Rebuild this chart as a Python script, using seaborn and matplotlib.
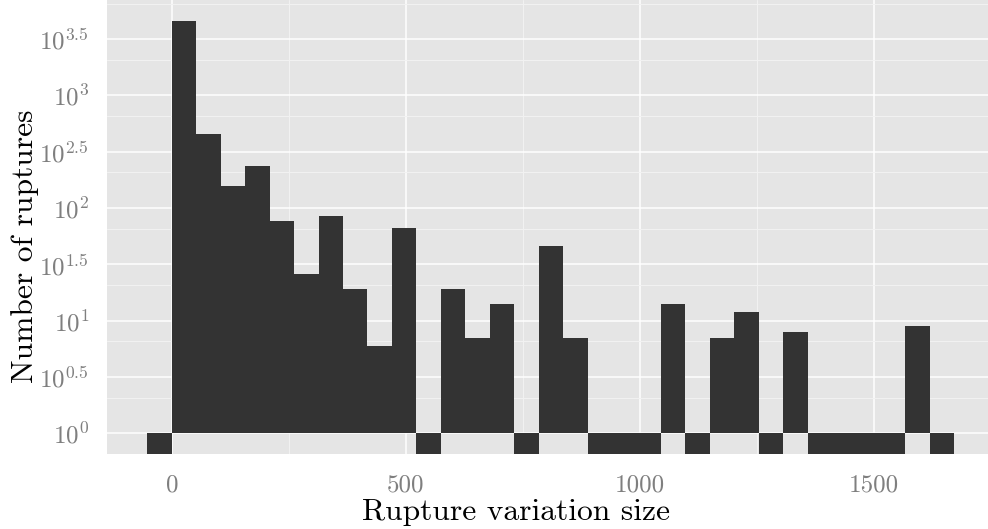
import numpy as np
import pandas as pd
import matplotlib
matplotlib.use("Agg")
import matplotlib.pyplot as plt
import seaborn as sns
from matplotlib.ticker import FixedLocator, FixedFormatter, NullFormatter

# Histogram of rupture variation sizes (counts per bin, log scale)
bin_width = 52.24
bin_index = list(range(-1, 32))
counts = [1, 4620, 455, 157, 237, 77, 26, 85, 19, 6, 67, 1, 19, 7, 14, 1,
          46, 7, 1, 1, 1, 14, 1, 7, 12, 1, 8, 1, 1, 1, 1, 9, 1]

x_ticks = [0, 500, 1000, 1500]
x_minor = [-250, 250, 750, 1250, 1750]
y_exponents = [0, 0.5, 1, 1.5, 2, 2.5, 3, 3.5]
y_tick_labels = [r"$10^{0}$", r"$10^{0.5}$", r"$10^{1}$", r"$10^{1.5}$",
                 r"$10^{2}$", r"$10^{2.5}$", r"$10^{3}$", r"$10^{3.5}$"]

edges = bin_width * np.arange(bin_index[0], bin_index[-1] + 2)
df = pd.DataFrame({"size": edges[:-1] + bin_width / 2, "n": counts})

sns.set_style("darkgrid")
plt.rcParams["font.family"] = ["cmr10"]
plt.rcParams["mathtext.fontset"] = "cm"
plt.rcParams["axes.unicode_minus"] = False
plt.rcParams["axes.formatter.use_mathtext"] = True

fig = plt.figure(figsize=(9.88, 5.29), dpi=100)
ax = fig.add_axes([0.1083, 0.1418, 0.8985, 0.8582])
ax.set_facecolor("#E5E5E5")

sns.histplot(data=df, x="size", weights="n", bins=edges.tolist(),
             color="#333333", alpha=1, linewidth=0, edgecolor="none", ax=ax)
ax.set_yscale("log")

# bars start at 10^0; single-count bins hang below the baseline
for p in ax.patches:
    h = p.get_height()
    if h > 1:
        p.set_y(1)
        p.set_height(h - 1)

# ggplot-like 5% expansion
xmin, xmax = edges[0], edges[-1]
xr = xmax - xmin
ax.set_xlim(xmin - 0.05 * xr, xmax + 0.05 * xr)
lmax = np.log10(max(counts))
lo_exp, hi_exp = -0.05 * lmax, 1.05 * lmax
ax.set_ylim(10 ** lo_exp, 10 ** hi_exp)

ax.xaxis.set_major_locator(FixedLocator(x_ticks))
ax.xaxis.set_minor_locator(FixedLocator(x_minor))
ax.yaxis.set_major_locator(FixedLocator([10 ** e for e in y_exponents]))
ax.yaxis.set_major_formatter(FixedFormatter(y_tick_labels))
y_minor = [10 ** (lo_exp + 0.5 * (k + 1)) for k in range(8)]
ax.yaxis.set_minor_locator(FixedLocator(y_minor))
ax.yaxis.set_minor_formatter(NullFormatter())
ax.set_xticklabels([str(t) for t in x_ticks])

ax.set_axisbelow(True)
ax.grid(which="major", color="white", linewidth=1.1)
ax.grid(which="minor", color="#F2F2F2", linewidth=0.7)
for s in ax.spines.values():
    s.set_visible(False)

ax.tick_params(axis="both", which="major", colors="#7F7F7F",
               labelsize=18, length=7.5, width=1.1)
ax.tick_params(axis="x", which="major", pad=7)
ax.tick_params(axis="y", which="major", pad=5.5)
ax.tick_params(which="minor", length=0)

ax.set_xlabel("Rupture variation size", fontsize=22.7, color="black",
              va="baseline")
ax.set_ylabel("Number of ruptures", fontsize=22.7, color="black",
              va="baseline")
ax.xaxis.set_label_coords(0.4607, -0.1454)
ax.yaxis.set_label_coords(-0.0830, 0.4581)

fig.savefig("out.png", dpi=100)
